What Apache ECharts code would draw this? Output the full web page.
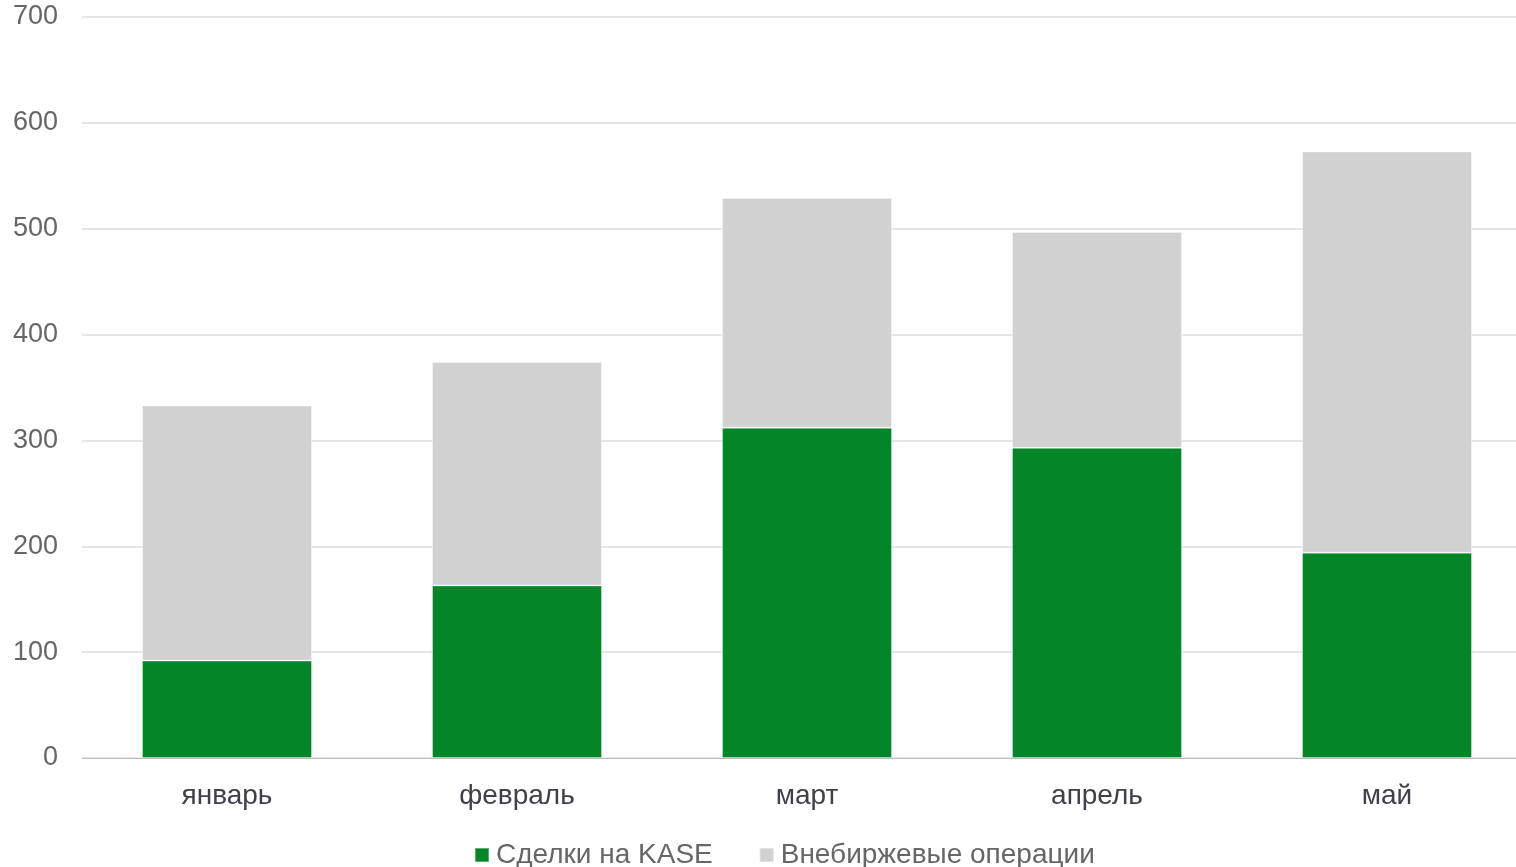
<!DOCTYPE html>
<html><head><meta charset="utf-8">
<script src="https://cdn.jsdelivr.net/npm/echarts@6/dist/echarts.min.js"></script>
<style>html,body{margin:0;padding:0;background:#fff;overflow:hidden}#c{width:1532px;height:867px}</style>
</head><body><div id="c"></div>
<script>
const categories = ['январь','февраль','март','апрель','май'];
const kase = [92, 163, 312, 293, 194];
const otc = [241, 211, 217, 204, 379];
const seriesNames = ['Сделки на KASE','Внебиржевые операции'];

const chart = echarts.init(document.getElementById('c'));
chart.setOption({
  animation:false,
  textStyle:{fontFamily:'Liberation Sans, Arial, sans-serif'},
  grid:{left:82,right:0,top:17,bottom:109,containLabel:false},
  legend:{
    top:836, left:469, itemWidth:14, itemHeight:14, itemGap:46,
    icon:'rect',
    textStyle:{fontSize:28,color:'#666',padding:[0,0,0,2]},
    data:seriesNames
  },
  xAxis:{
    type:'category', data:categories,
    axisLine:{lineStyle:{color:'#bfbfbf'}},
    axisTick:{length:8,lineStyle:{color:'#bfbfbf'}},
    axisLabel:{fontSize:28,color:'#404048',margin:24}
  },
  yAxis:{
    type:'value', min:0, max:700, interval:100,
    axisLine:{show:false}, axisTick:{show:false},
    splitLine:{lineStyle:{color:'#e6e6e6',width:2}},
    axisLabel:{fontSize:27,color:'#666',margin:24}
  },
  series:[
    {name:seriesNames[0],type:'bar',stack:'t',data:kase,barWidth:'58.6%',
     itemStyle:{color:'#038627',borderColor:'rgba(255,255,255,0.35)',borderWidth:1}},
    {name:seriesNames[1],type:'bar',stack:'t',data:otc,barWidth:'58.6%',
     itemStyle:{color:'#d1d1d1',borderColor:'rgba(255,255,255,0.35)',borderWidth:1}}
  ]
});
</script></body></html>
